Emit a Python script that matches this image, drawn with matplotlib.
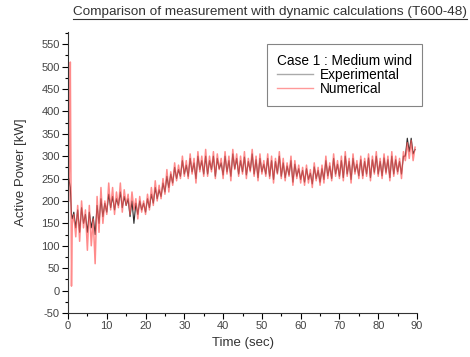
import numpy as np
import matplotlib
matplotlib.use('Agg')
import matplotlib.pyplot as plt
from matplotlib.ticker import MultipleLocator
from matplotlib.lines import Line2D

plt.rcParams['font.family'] = ['Liberation Sans', 'DejaVu Sans']
plt.rcParams['axes.unicode_minus'] = False

# ── Data ──────────────────────────────────────────────────────
# first second sampled finer (start-up transient), then every 0.5 s
t_start = [0.2, 0.4, 0.6, 0.75, 0.9, 1.1]
t_main = list(np.arange(1.5, 90.0, 0.5))
time = t_start + t_main

numerical = [
    200, 300, 510, 280, 10, 150,
    170, 120, 190, 110, 200, 140, 180, 90,
    190, 100, 160, 60, 210, 130, 230, 150, 200, 170,
    240, 180, 230, 170, 220, 185, 240, 175, 225, 190,
    215, 170, 220, 180, 205, 160, 210, 175, 200, 170,
    215, 180, 230, 190, 245, 200, 235, 205, 250, 215,
    270, 220, 265, 235, 285, 245, 280, 250, 300, 255,
    290, 250, 305, 260, 295, 240, 310, 265, 300, 255,
    315, 255, 300, 265, 310, 250, 305, 270, 295, 250,
    310, 260, 300, 245, 315, 270, 305, 255, 300, 260,
    310, 250, 295, 265, 315, 255, 300, 245, 305, 260,
    290, 255, 305, 250, 300, 240, 295, 260, 310, 250,
    295, 245, 285, 255, 300, 235, 290, 250, 280, 240,
    275, 235, 280, 240, 270, 230, 285, 245, 275, 235,
    280, 240, 300, 250, 285, 245, 305, 255, 290, 250,
    300, 245, 310, 255, 295, 240, 305, 260, 290, 250,
    300, 250, 295, 255, 305, 245, 300, 260, 310, 255,
    295, 250, 305, 260, 300, 245, 310, 255, 300, 260,
    295, 250, 310, 290, 330, 295, 335, 290, 320,
]

experimental = [
    250, 240, 230, 200, 170, 160,
    175, 140, 180, 130, 185, 150, 170, 130,
    175, 140, 165, 125, 190, 150, 205, 165, 195, 175,
    215, 185, 210, 180, 205, 190, 220, 185, 210, 190,
    205, 165, 200, 150, 195, 170, 200, 180, 195, 175,
    205, 185, 215, 195, 230, 205, 225, 210, 240, 220,
    255, 230, 260, 240, 275, 250, 270, 255, 290, 260,
    280, 255, 295, 265, 285, 250, 300, 270, 290, 260,
    300, 260, 290, 270, 300, 255, 295, 272, 285, 258,
    300, 265, 290, 255, 305, 272, 295, 260, 290, 265,
    298, 258, 288, 268, 305, 260, 292, 252, 295, 265,
    282, 260, 295, 255, 290, 248, 288, 262, 300, 255,
    285, 252, 278, 258, 290, 242, 282, 255, 272, 248,
    268, 242, 272, 248, 262, 238, 276, 250, 268, 242,
    272, 248, 290, 256, 278, 250, 295, 260, 282, 255,
    290, 252, 300, 260, 288, 248, 295, 265, 282, 256,
    292, 256, 288, 260, 296, 252, 292, 264, 300, 260,
    288, 256, 296, 264, 292, 252, 300, 260, 292, 265,
    288, 260, 300, 300, 340, 310, 340, 305, 315,
]

x_ticks = [0, 10, 20, 30, 40, 50, 60, 70, 80, 90]
y_ticks = [-50, 0, 50, 100, 150, 200, 250, 300, 350, 400, 450, 500, 550]

# ── Figure ────────────────────────────────────────────────────
W, H = 470, 357
fig = plt.figure(figsize=(W / 100, H / 100), dpi=100)
ax = fig.add_axes([68 / W, 1 - 313 / H, (417 - 68) / W, (313 - 32) / H])

ax.plot(time, experimental, color='#2a2a2a', linewidth=0.8, label='Experimental')
ax.plot(time, numerical, color='#ff5a5a', linewidth=1.1, alpha=0.7, label='Numerical')

ax.set_xlim(0, 90)
ax.set_ylim(-50, 577)
ax.set_xticks(x_ticks)
ax.set_yticks(y_ticks)
ax.xaxis.set_minor_locator(MultipleLocator(5))
ax.yaxis.set_minor_locator(MultipleLocator(25))
ax.tick_params(which='major', direction='out', length=4, width=0.8,
               labelsize=8, labelcolor='#444444', pad=2)
ax.tick_params(which='minor', direction='out', length=2, width=0.8)
ax.spines['top'].set_visible(False)
ax.spines['right'].set_visible(False)
ax.spines['left'].set_color('#333333')
ax.spines['bottom'].set_color('#333333')

ax.set_xlabel('Time (sec)', fontsize=9.5, color='#333333', labelpad=4)
ax.set_ylabel('Active Power [kW]', fontsize=9.5, color='#333333', labelpad=10)

handles = [Line2D([], [], color='#aaaaaa', linewidth=1.0),
           Line2D([], [], color='#ff9999', linewidth=1.0)]
leg = ax.legend(handles, ['Experimental', 'Numerical'],
                title='Case 1 : Medium wind', loc='upper left',
                bbox_to_anchor=((267 - 68) / 349, 1 - (44 - 32) / 281),
                fontsize=9.8, title_fontsize=9.8, frameon=True, fancybox=False,
                handlelength=2.6, handletextpad=0.5, borderpad=0.75,
                labelspacing=0.0, borderaxespad=0)
leg.get_frame().set_edgecolor('#666666')
leg.get_frame().set_linewidth(0.8)
leg._legend_box.align = 'left'

# Underlined title
title = fig.text(270 / W, 1 - 12 / H, 'Comparison of measurement with dynamic calculations (T600-48)',
                 ha='center', va='center', fontsize=9.7, color='#333333')
fig.canvas.draw()
bb = title.get_window_extent().transformed(fig.transFigure.inverted())
fig.add_artist(Line2D([bb.x0, bb.x1], [bb.y0 - 0.002, bb.y0 - 0.002],
                      transform=fig.transFigure, color='#333333', linewidth=0.8))

fig.savefig('out.png', dpi=100)
